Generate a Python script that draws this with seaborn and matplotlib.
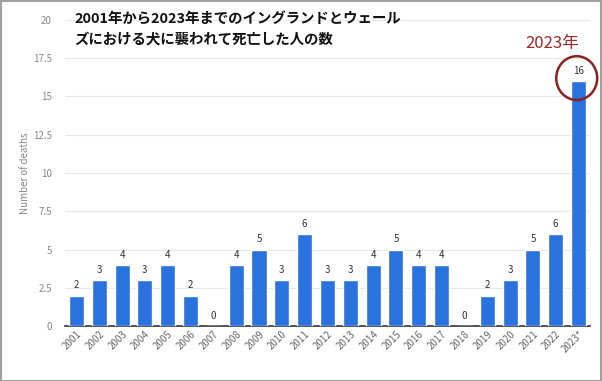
import seaborn as sns
import pandas as pd
from matplotlib import pyplot as plt
from matplotlib.patches import Ellipse, Rectangle

years = ["2001", "2002", "2003", "2004", "2005", "2006", "2007", "2008", "2009",
         "2010", "2011", "2012", "2013", "2014", "2015", "2016", "2017", "2018",
         "2019", "2020", "2021", "2022", "2023*"]
deaths = [2, 3, 4, 3, 4, 2, 0, 4, 5, 3, 6, 3, 3, 4, 5, 4, 4, 0, 2, 3, 5, 6, 16]

df = pd.DataFrame({"year": years, "deaths": deaths})

sns.set_style("white")
plt.rcParams['font.family'] = ['Noto Sans CJK JP', 'DejaVu Sans']

fig = plt.figure(figsize=(6.02, 3.81), dpi=100)
ax = fig.add_axes([0.108, 0.144, 0.872, 0.804])

sns.barplot(data=df, x="year", y="deaths", color="#2a72de", width=0.66,
            saturation=1, ax=ax, zorder=3)

for i, v in enumerate(deaths):
    ax.text(i, v + 0.35, str(v), ha="center", va="bottom", fontsize=7,
            color="#333333", zorder=4)

ax.set_ylim(0, 20)
ax.set_yticks([0, 2.5, 5, 7.5, 10, 12.5, 15, 17.5, 20])
ax.set_yticklabels(["0", "2.5", "5", "7.5", "10", "12.5", "15", "17.5", "20"])
ax.set_xlim(-0.5, len(years) - 0.5)
ax.grid(axis="y", color="#e6e6e6", linewidth=0.8, zorder=0)
ax.tick_params(axis="y", colors="#888888", labelsize=7, length=0, pad=9.5)
ax.tick_params(axis="x", colors="#666666", labelsize=7, length=0, pad=2)
plt.setp(ax.get_xticklabels(), rotation=45, ha="right", rotation_mode="anchor")
ax.set_xlabel("")
ax.set_ylabel("Number of deaths", fontsize=7, color="#888888", labelpad=2)
sns.despine(ax=ax, left=True, top=True, right=True)
ax.spines["bottom"].set_color("#333333")
ax.spines["bottom"].set_linewidth(1.2)

fig.text(0.123, 0.966, "2001年から2023年までのイングランドとウェール\nズにおける犬に襲われて死亡した人の数",
         fontsize=10.4, fontweight="bold", color="#111111", va="top", ha="left",
         linespacing=1.46)

fig.text(0.918, 0.885, "2023年", fontsize=12, color="#9b2a2a", ha="center", va="center")
circ = Ellipse((0.958, 0.795), width=0.068, height=0.115, transform=fig.transFigure,
               fill=False, edgecolor="#8b2222", linewidth=1.8, zorder=10)
fig.patches.append(circ)

border = Rectangle((0.001, 0.001), 0.997, 0.996, transform=fig.transFigure,
                   fill=False, edgecolor="#a0a0a0", linewidth=1.5)
fig.patches.append(border)

fig.savefig("out.png", dpi=100)
